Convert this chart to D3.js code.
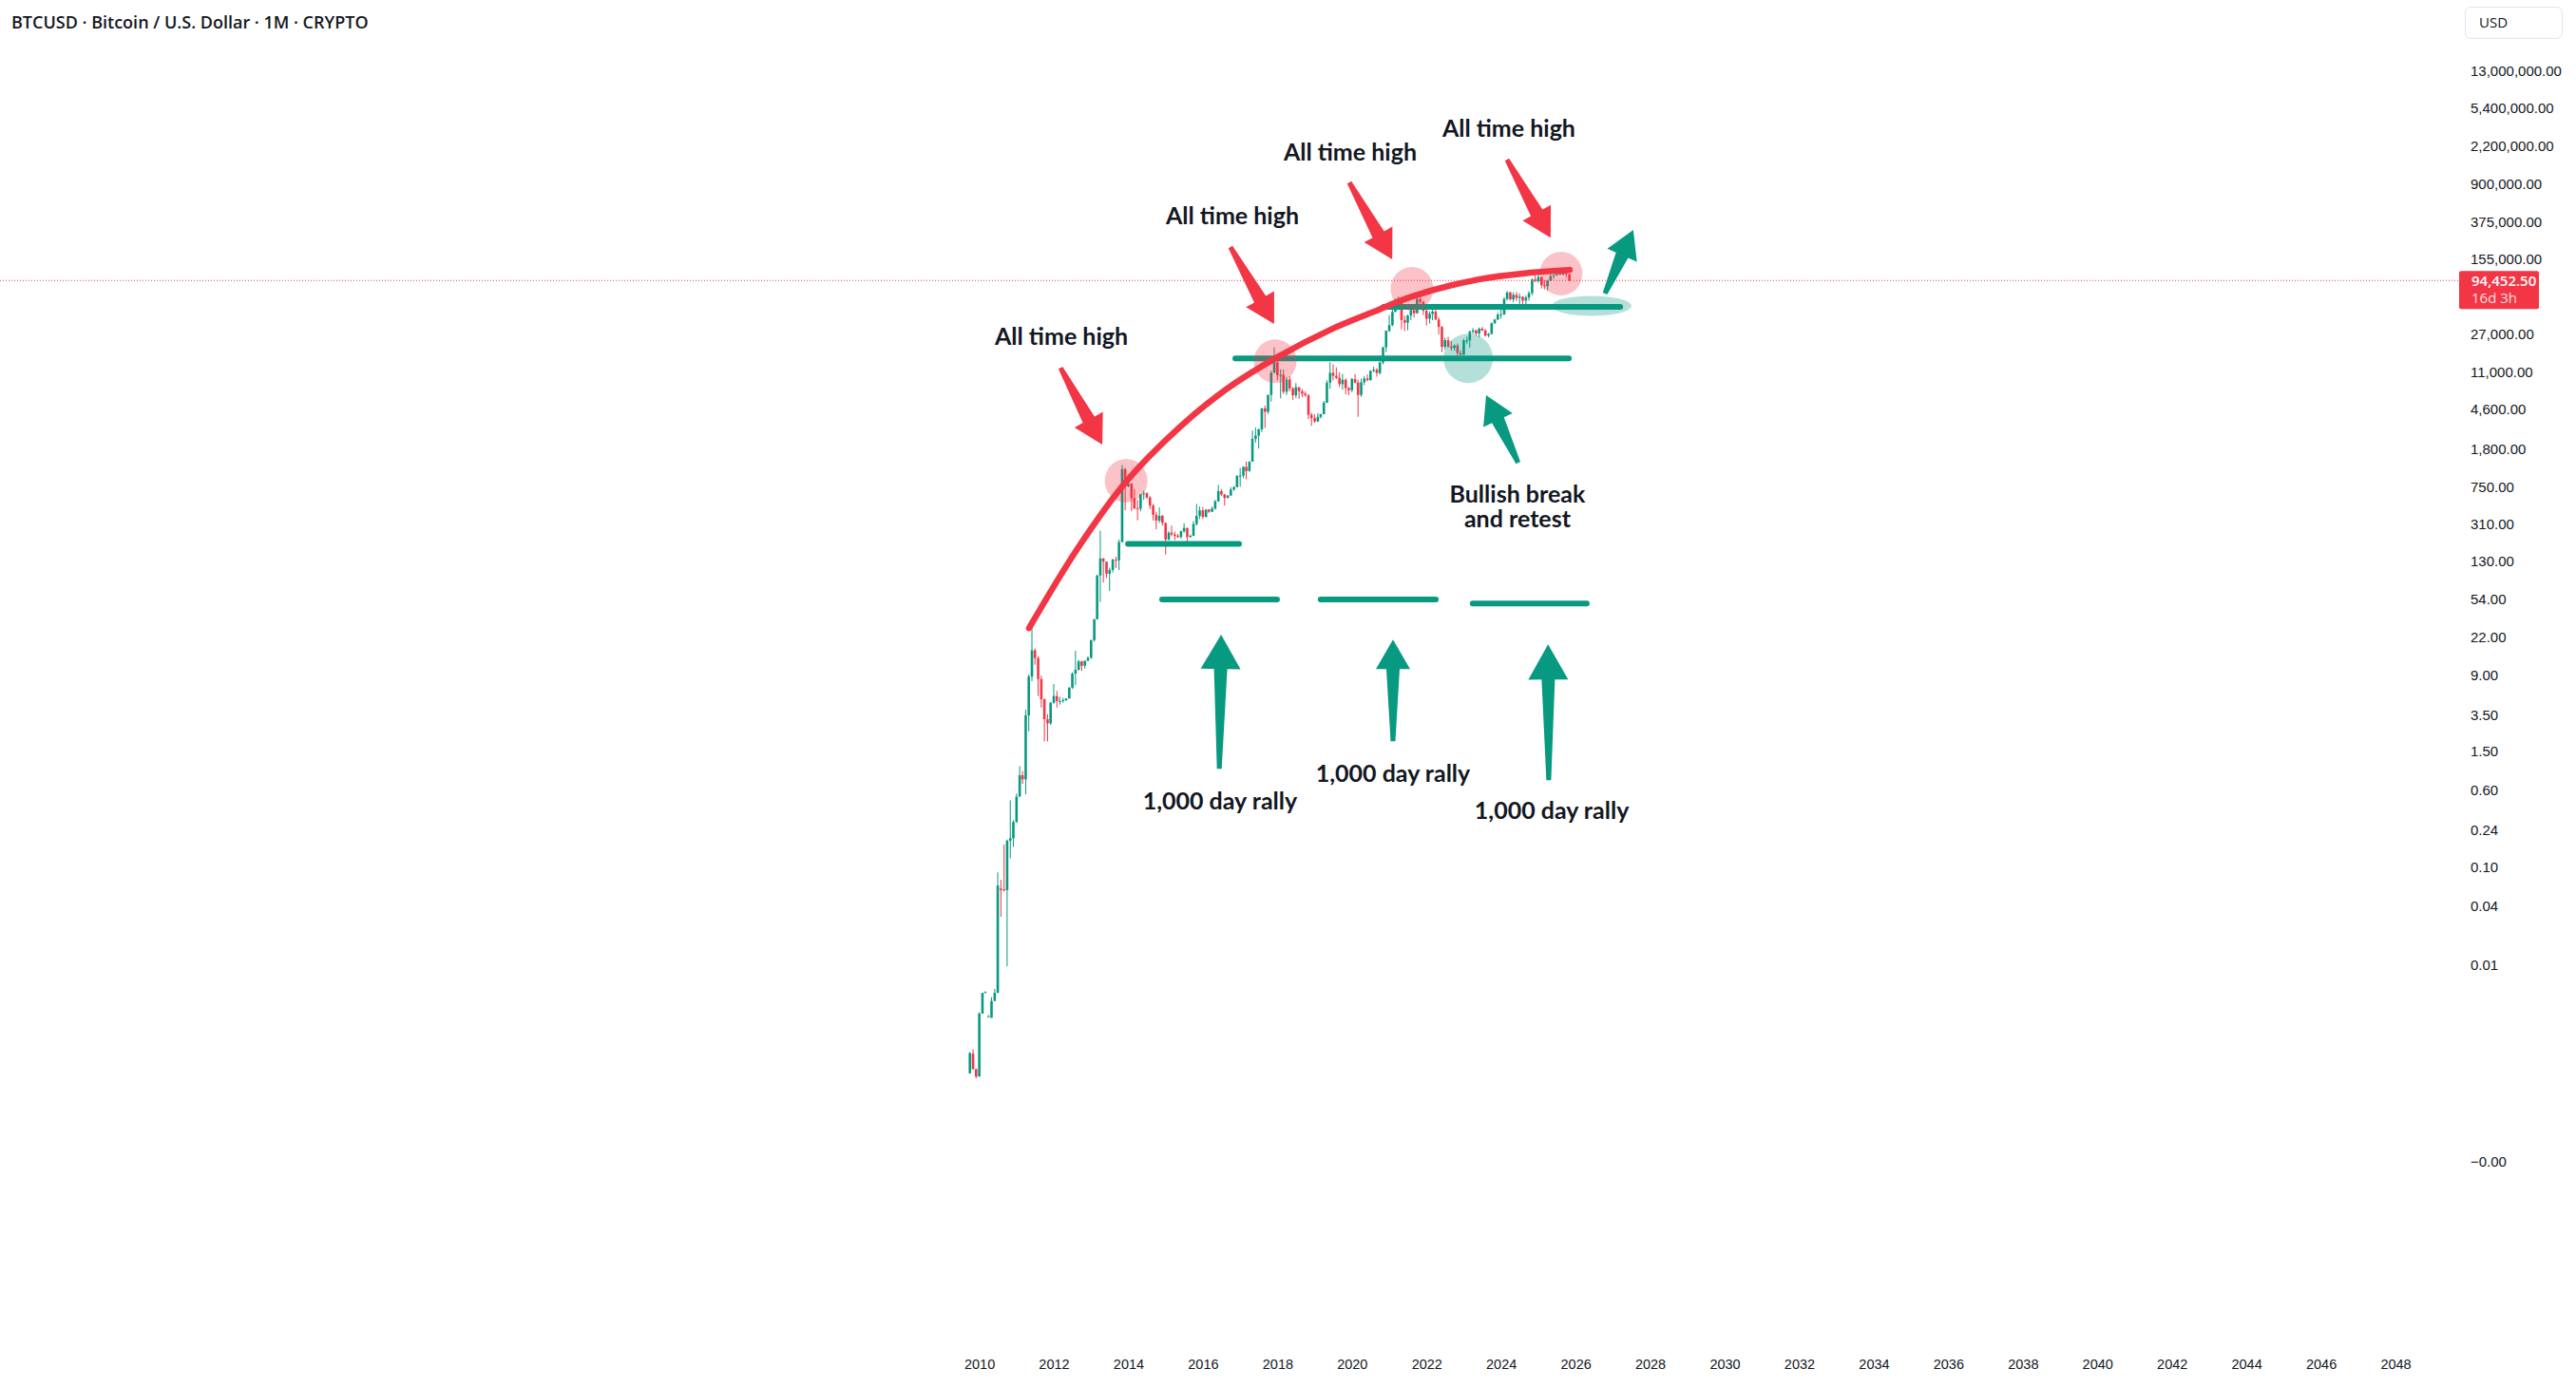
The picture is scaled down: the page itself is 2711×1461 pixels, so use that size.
<!DOCTYPE html>
<html>
<head>
<meta charset="utf-8">
<script src="https://d3js.org/d3.v7.min.js"></script>
<style>
  body { margin: 0; background: #fff; }
  svg { display: block; font-family: "Open Sans", "Noto Sans", sans-serif; }
  .axis text { fill: #131722; font-size: 15px; }
  .xaxis text { font-size: 14.5px; }
  .note { font-family: Lato, "Open Sans", sans-serif; font-weight: bold; font-size: 25px; fill: #131722; }
</style>
</head>
<body>
<svg width="2711" height="1461"></svg>
<script>
// ---- data: monthly candles from Oct 2009 ----
var firstYear = 2009, firstMonth = 9; // October 2009 (0-based month)

var open = [
  0.00079, 0.00125, 0.00087,                                                   // 2009
  0.00073, 0.0032, 0.0052, 0.003, 0.0029, 0.0043, 0.0052, 0.060, 0.059, 0.058, 0.185, 0.196, // 2010
  0.287, 0.52, 0.86, 0.78, 3.5, 8.7, 16.1, 13.4, 8.2, 5.1, 3.2, 2.9,           // 2011
  4.7, 5.5, 4.9, 4.9, 5.0, 5.2, 6.7, 9.3, 10.2, 12.4, 11.2, 12.6,              // 2012
  13.5, 20.4, 33.4, 93, 139, 129, 97, 106, 135, 133, 204, 1130,                 // 2013
  754, 803, 573, 450, 447, 627, 640, 580, 480, 387, 338, 378,                   // 2014
  320, 217, 254, 244, 236, 230, 263, 284, 230, 236, 312, 378,                   // 2015
  430, 368, 437, 416, 448, 531, 674, 624, 575, 608, 700, 740,                   // 2016
  965, 970, 1190, 1080, 1348, 2300, 2480, 2870, 4700, 4340, 6450, 10850,        // 2017
  13880, 10220, 10330, 6930, 9250, 7500, 6390, 7730, 7030, 6630, 6370, 4040,    // 2018
  3740, 3460, 3850, 4110, 5350, 8570, 10820, 10080, 9630, 8300, 9200, 7570,     // 2019
  7200, 9350, 8600, 6440, 8660, 9470, 9140, 11340, 11650, 10780, 13800, 19700,  // 2020
  28990, 33110, 45240, 58800, 57720, 37300, 35050, 41460, 47100, 43800, 61300, 57000, // 2021
  46300, 38500, 43200, 45500, 37700, 31800, 19900, 23300, 20050, 19420, 20500, 17170, // 2022
  16540, 23130, 23150, 28480, 29250, 27220, 30480, 29230, 25940, 26970, 34660, 37730, // 2023
  42280, 42580, 61180, 71330, 60640, 67500, 62700, 64630, 58980, 63330, 70220, 96400, // 2024
  93400, 102400, 84350, 82550, 94200, 104600, 107150, 115750, 108250, 114050, 109600  // 2025
];
var high = [
  0.0013, 0.00139, 0.00088,
  0.0033, 0.0052, 0.0054, 0.0031, 0.0047, 0.0057, 0.088, 0.074, 0.169, 0.19, 0.477, 0.30,
  0.56, 1.06, 0.95, 4.0, 9.1, 29.6, 16.8, 14.0, 8.9, 5.2, 3.6, 4.8,
  7.3, 6.2, 5.4, 5.3, 5.2, 6.8, 9.6, 16.0, 12.9, 12.6, 12.7, 14.0,
  20.7, 33.5, 95, 266, 140, 129, 112, 138, 145, 217, 1242, 1163,
  1000, 820, 710, 545, 630, 680, 660, 600, 500, 415, 460, 385,
  320, 264, 300, 261, 247, 268, 318, 286, 244, 335, 500, 470,
  465, 442, 443, 470, 550, 780, 705, 630, 614, 740, 760, 980,
  1160, 1210, 1350, 1350, 2800, 3000, 2930, 4750, 5000, 6450, 11400, 19700,
  17200, 11800, 11700, 9800, 10000, 7750, 8500, 7750, 7400, 7000, 6600, 4240,
  4100, 4210, 4120, 5600, 9100, 13880, 13200, 12330, 10950, 10540, 9510, 7750,
  9600, 10500, 9200, 9470, 10080, 10400, 11450, 12470, 12100, 14100, 19900, 29300,
  41900, 58350, 61800, 64900, 59500, 41300, 42400, 50500, 52900, 67000, 69000, 59100,
  47990, 45800, 48200, 47400, 40000, 32400, 24700, 25200, 22800, 21100, 21500, 18400,
  23950, 25250, 29200, 31000, 29850, 31400, 31800, 30250, 27500, 35200, 38400, 44700,
  48970, 63900, 73800, 72800, 71950, 72000, 70000, 65100, 66500, 73600, 99800, 108300,
  109350, 102750, 95000, 95750, 112000, 110500, 123200, 124450, 117900, 126200, 111200
];
var low = [
  0.00078, 0.00086, 0.0007,
  0.00073, 0.0032, 0.0052, 0.003, 0.0029, 0.0043, 0.0052, 0.031, 0.056, 0.0097, 0.122, 0.16,
  0.28, 0.52, 0.70, 0.55, 2.4, 7.8, 11.5, 5.5, 4.2, 1.9, 1.9, 2.8,
  4.6, 4.2, 4.5, 4.7, 4.9, 5.2, 6.5, 7.1, 10.0, 9.9, 10.5, 12.6,
  13.2, 19.7, 33.1, 50, 79, 88, 65, 100, 111, 106, 204, 430,
  740, 420, 440, 340, 420, 550, 565, 440, 340, 275, 320, 300,
  152, 212, 235, 214, 225, 220, 253, 199, 225, 236, 300, 350,
  350, 365, 405, 412, 436, 525, 600, 480, 570, 606, 680, 740,
  750, 915, 890, 1065, 1340, 2100, 1830, 2700, 2970, 4120, 5500, 10800,
  9050, 5950, 6600, 6450, 7050, 5750, 6000, 5880, 6100, 6200, 3650, 3120,
  3350, 3400, 3700, 4080, 5340, 7450, 9050, 9320, 7730, 7300, 6520, 6430,
  6870, 8450, 3850, 6150, 8100, 8820, 8980, 10960, 9880, 10380, 13200, 17600,
  28150, 32300, 44950, 47000, 30000, 28800, 29300, 37300, 39600, 43300, 53300, 42000,
  32900, 34300, 37200, 37600, 26700, 17600, 18800, 19600, 18150, 18200, 15480, 16260,
  16500, 21400, 19550, 26950, 25800, 24800, 28850, 25300, 24900, 26550, 34100, 37600,
  38500, 41900, 59000, 59100, 56500, 58400, 53500, 49000, 52500, 58900, 66800, 90500,
  89200, 78250, 76600, 74500, 93400, 98200, 105100, 107300, 107300, 102000, 93000
];
var close = [
  0.00127, 0.00087, 0.00073,
  0.0032, 0.0052, 0.0053, 0.003, 0.0043, 0.0052, 0.0646, 0.058, 0.058, 0.185, 0.196, 0.287,
  0.52, 0.86, 0.78, 3.5, 8.7, 16.1, 13.4, 8.2, 5.1, 3.2, 2.9, 4.7,
  5.5, 4.9, 4.9, 5.0, 5.2, 6.7, 9.3, 10.2, 12.4, 11.2, 12.6, 13.5,
  20.4, 33.4, 93, 139, 129, 97, 106, 135, 133, 204, 1130, 754,
  803, 573, 450, 447, 627, 640, 580, 480, 387, 338, 378, 320,
  217, 254, 244, 236, 230, 263, 284, 230, 236, 312, 378, 430,
  368, 437, 416, 448, 531, 674, 624, 575, 608, 700, 740, 965,
  970, 1190, 1080, 1348, 2300, 2480, 2870, 4700, 4340, 6450, 10850, 13880,
  10220, 10330, 6930, 9250, 7500, 6390, 7730, 7030, 6630, 6370, 4040, 3740,
  3460, 3850, 4110, 5350, 8570, 10820, 10080, 9630, 8300, 9200, 7570, 7200,
  9350, 8600, 6440, 8660, 9470, 9140, 11340, 11650, 10780, 13800, 19700, 28990,
  33110, 45240, 58800, 57720, 37300, 35050, 41460, 47100, 43800, 61300, 57000, 46300,
  38500, 43200, 45500, 37700, 31800, 19900, 23300, 20050, 19420, 20500, 17170, 16540,
  23130, 23150, 28480, 29250, 27220, 30480, 29230, 25940, 26970, 34660, 37730, 42280,
  42580, 61180, 71330, 60640, 67500, 62700, 64630, 58980, 63330, 70220, 96400, 93400,
  102400, 84350, 82550, 94200, 104600, 107150, 115750, 108250, 114050, 109600, 94452.5
];

// ---- axes ----
var priceTicks = [13000000, 5400000, 2200000, 900000, 375000, 155000, 27000, 11000, 4600, 1800,
                  750, 310, 130, 54, 22, 9, 3.5, 1.5, 0.6, 0.24, 0.1, 0.04, 0.01, 0.0001];
var priceTickLabels = ["13,000,000.00", "5,400,000.00", "2,200,000.00", "900,000.00", "375,000.00",
                       "155,000.00", "27,000.00", "11,000.00", "4,600.00", "1,800.00", "750.00",
                       "310.00", "130.00", "54.00", "22.00", "9.00", "3.50", "1.50", "0.60", "0.24",
                       "0.10", "0.04", "0.01", "\u22120.00"];
var yearTicks = [2010, 2012, 2014, 2016, 2018, 2020, 2022, 2024, 2026, 2028, 2030, 2032, 2034,
                 2036, 2038, 2040, 2042, 2044, 2046, 2048];
var countdown = "16d 3h";

// ---- annotations (decimal year, price) ----
var athArc = [[2011.336, 27.1], [2012.64, 176], [2013.937, 839], [2015.365, 2990], [2016.614, 7300],
              [2017.99, 15560], [2019.42, 29700], [2020.59, 45400], [2021.61, 64900],
              [2023.40, 96900], [2024.77, 113300], [2025.84, 121000]];
var levels = [ // price, from, to
  [196, 2013.99, 2016.97], [15200, 2016.87, 2025.82], [50800, 2020.85, 2027.20],
  [53, 2014.905, 2017.99], [53, 2019.16, 2022.25], [48.4, 2023.24, 2026.30]
];
var athCircles = [[2013.94, 859], [2017.94, 14200], [2021.61, 77600], [2025.61, 110800]];
var retestZones = [[2023.12, 15200, 26, 26], [2026.43, 52000, 42, 10.5]]; // year, price, rx, ry
var redArrows = [ // tail -> tip
  [[2012.18, 12200], [2013.30, 2003]], [[2016.74, 207000], [2017.91, 34000]],
  [[2019.93, 943000], [2021.08, 155000]], [[2024.16, 1610000], [2025.33, 258000]]
];
var greenArrows = [ // tail, tip, head length, head half width
  [[2016.44, 1.0], [2016.49, 23.2], 36, 21], [[2021.10, 1.906], [2021.10, 20.7], 31, 18],
  [[2025.28, 0.764], [2025.26, 18.5], 37, 21], [[2024.46, 1310], [2023.60, 6380], 29, 17],
  [[2026.79, 69400], [2027.55, 309000], 29, 17]
];
var notes = [
  ["All time high", 2012.205, 25970], ["All time high", 2016.792, 442000],
  ["All time high", 2019.954, 1968000], ["All time high", 2024.21, 3430000],
  ["Bullish break", 2024.44, 642], ["and retest", 2024.44, 360],
  ["1,000 day rally", 2016.46, 0.4786], ["1,000 day rally", 2021.10, 0.914],
  ["1,000 day rally", 2025.36, 0.383]
];

var green = "#089981", red = "#f23645", ink = "#131722";

var svg = d3.select("svg");

function yd(t) {
  var yy = Math.floor(t), a = Date.UTC(yy, 0, 1), b = Date.UTC(yy + 1, 0, 1);
  return new Date(a + (t - yy) * (b - a));
}

var x = d3.scaleUtc()
    .domain([new Date(Date.UTC(2010, 0, 1)), new Date(Date.UTC(2048, 0, 1))])
    .range([1030.6, 2521]);
var y = d3.scaleLog().domain([0.0001, 13000000]).range([1222.4, 74.3]);

var candles = close.map(function(c, i) {
  return { date: new Date(Date.UTC(firstYear, firstMonth + i, 1)), o: open[i], h: high[i], l: low[i], c: c };
});

// title
svg.append("text").attr("x", 12).attr("y", 30)
   .attr("font-size", 18).attr("font-weight", 600).attr("fill", ink)
   .text("BTCUSD \u00b7 Bitcoin / U.S. Dollar \u00b7 1M \u00b7 CRYPTO");

// axes
var yAxis = svg.append("g").attr("class", "axis")
    .attr("transform", "translate(2600,0)")
    .call(d3.axisRight(y).tickValues(priceTicks).tickSize(0).tickPadding(0)
          .tickFormat(function(d, i) { return priceTickLabels[i]; }));
yAxis.select(".domain").remove();

var xAxis = svg.append("g").attr("class", "axis xaxis")
    .attr("transform", "translate(0,1431)")
    .call(d3.axisBottom(x).tickValues(yearTicks.map(function(t) { return yd(t); }))
          .tickSize(0).tickPadding(0).tickFormat(d3.utcFormat("%Y")));
xAxis.select(".domain").remove();

// USD box
svg.append("rect").attr("x", 2594.5).attr("y", 7.5).attr("width", 102).attr("height", 33)
   .attr("rx", 6).attr("fill", "#fff").attr("stroke", "#e0e3eb");
svg.append("text").attr("x", 2609).attr("y", 29).attr("font-size", 15).attr("fill", ink).text("USD");

// candles
var last = candles[candles.length - 1];
var cg = svg.append("g");
cg.selectAll("line").data(candles).enter().append("line")
  .attr("x1", function(d) { return x(d.date); }).attr("x2", function(d) { return x(d.date); })
  .attr("y1", function(d) { return y(d.h); }).attr("y2", function(d) { return y(d.l); })
  .attr("stroke", function(d) { return d.c >= d.o ? green : red; }).attr("stroke-width", 1);
cg.selectAll("rect").data(candles).enter().append("rect")
  .attr("x", function(d) { return x(d.date) - 1.3; }).attr("width", 2.6)
  .attr("y", function(d) { return y(Math.max(d.o, d.c)); })
  .attr("height", function(d) { return Math.max(1, Math.abs(y(d.o) - y(d.c))); })
  .attr("fill", function(d) { return d.c >= d.o ? green : red; });

// last price line
svg.append("line").attr("x1", 0).attr("x2", 2588)
   .attr("y1", y(last.c)).attr("y2", y(last.c))
   .attr("stroke", red).attr("stroke-width", 1).attr("stroke-dasharray", "1,2");

// support / level lines
svg.append("g").selectAll("line").data(levels).enter().append("line")
  .attr("x1", function(d) { return x(yd(d[1])); }).attr("x2", function(d) { return x(yd(d[2])); })
  .attr("y1", function(d) { return y(d[0]); }).attr("y2", function(d) { return y(d[0]); })
  .attr("stroke", green).attr("stroke-width", 6).attr("stroke-linecap", "round");

// ATH arc
svg.append("path").datum(athArc)
  .attr("d", d3.line().curve(d3.curveCatmullRom)
        .x(function(d) { return x(yd(d[0])); }).y(function(d) { return y(d[1]); }))
  .attr("fill", "none").attr("stroke", red).attr("stroke-width", 6.5).attr("stroke-linecap", "round");

// highlight circles
svg.append("g").selectAll("ellipse").data(athCircles).enter().append("ellipse")
  .attr("cx", function(d) { return x(yd(d[0])); }).attr("cy", function(d) { return y(d[1]); })
  .attr("rx", 22.5).attr("ry", 23).attr("fill", red).attr("fill-opacity", 0.3);
svg.append("g").selectAll("ellipse").data(retestZones).enter().append("ellipse")
  .attr("cx", function(d) { return x(yd(d[0])); }).attr("cy", function(d) { return y(d[1]); })
  .attr("rx", function(d) { return d[2]; }).attr("ry", function(d) { return d[3]; })
  .attr("fill", green).attr("fill-opacity", 0.3);

// arrows
function arrowPath(tail, tip, headLen, headHalf) {
  var x0 = x(yd(tail[0])), y0 = y(tail[1]), x1 = x(yd(tip[0])), y1 = y(tip[1]);
  var dx = x1 - x0, dy = y1 - y0, len = Math.sqrt(dx * dx + dy * dy);
  var ux = dx / len, uy = dy / len, nx = -uy, ny = ux;
  var bx = x1 - ux * headLen, by = y1 - uy * headLen;
  var tailHalf = 2.5, neckHalf = 7;
  var pts = [
    [x0 + nx * tailHalf, y0 + ny * tailHalf], [bx + nx * neckHalf, by + ny * neckHalf],
    [bx + nx * headHalf, by + ny * headHalf], [x1, y1],
    [bx - nx * headHalf, by - ny * headHalf], [bx - nx * neckHalf, by - ny * neckHalf],
    [x0 - nx * tailHalf, y0 - ny * tailHalf]
  ];
  return "M" + pts.map(function(p) { return p[0].toFixed(1) + "," + p[1].toFixed(1); }).join("L") + "Z";
}
svg.append("g").selectAll("path").data(redArrows).enter().append("path")
  .attr("d", function(d) { return arrowPath(d[0], d[1], 30, 17); }).attr("fill", red);
svg.append("g").selectAll("path").data(greenArrows).enter().append("path")
  .attr("d", function(d) { return arrowPath(d[0], d[1], d[2], d[3]); }).attr("fill", green);

// notes
svg.append("g").selectAll("text").data(notes).enter().append("text")
  .attr("class", "note")
  .attr("x", function(d) { return x(yd(d[1])); }).attr("y", function(d) { return y(d[2]); })
  .attr("text-anchor", "middle").attr("dominant-baseline", "central")
  .text(function(d) { return d[0]; });

// price label
var py = y(last.c);
svg.append("rect").attr("x", 2588).attr("y", py - 10).attr("width", 84).attr("height", 40)
   .attr("rx", 2).attr("fill", red);
svg.append("text").attr("x", 2601).attr("y", py + 6).attr("font-size", 15).attr("font-weight", 600)
   .attr("fill", "#fff").text(d3.format(",.2f")(last.c));
svg.append("text").attr("x", 2601).attr("y", py + 24).attr("font-size", 15)
   .attr("fill", "#fff").attr("fill-opacity", 0.85).text(countdown);
</script>
</body>
</html>
